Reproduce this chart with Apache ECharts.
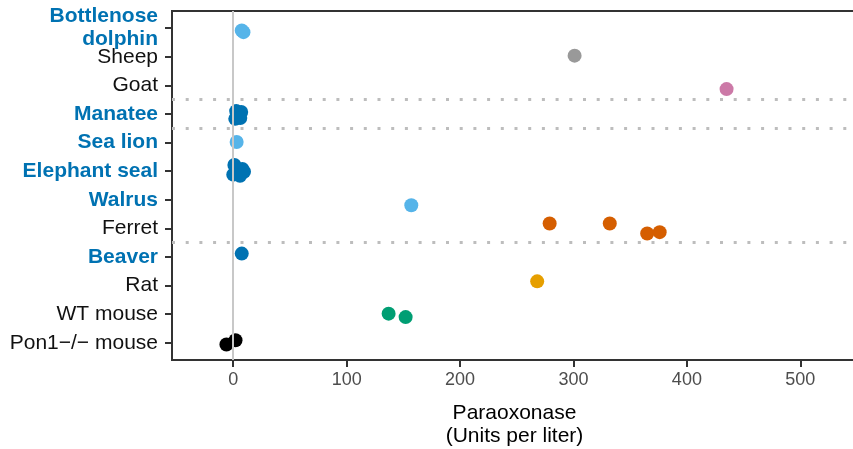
<!DOCTYPE html>
<html>
<head>
<meta charset="utf-8">
<script src="https://cdn.jsdelivr.net/npm/echarts@6/dist/echarts.min.js"></script>
<style>
  html, body { margin: 0; padding: 0; background: #fff; }
  #chart { width: 853px; height: 449px; }
</style>
</head>
<body>
<div id="chart"></div>
<script>
// Species shown on the vertical axis, top to bottom
const species = ['Bottlenose dolphin', 'Sheep', 'Goat', 'Manatee', 'Sea lion', 'Elephant seal',
                 'Walrus', 'Ferret', 'Beaver', 'Rat', 'WT mouse', 'Pon1\u2212/\u2212 mouse'];
// Tick labels (with line breaks)
const yLabels = ['Bottlenose\ndolphin', 'Sheep', 'Goat', 'Manatee', 'Sea lion', 'Elephant seal',
                 'Walrus', 'Ferret', 'Beaver', 'Rat', 'WT mouse', 'Pon1\u2212/\u2212 mouse'];
// Marine mammals are highlighted on the axis
const marine = [true, false, false, true, true, true, true, false, true, false, false, false];
// Paraoxonase activity (Units per liter), one list per species
const values = [
  [7.5, 9],
  [301],
  [435],
  [2.6, 7, 1.8, 6.2],
  [3],
  [1, 8, 9.5, 0, 6],
  [157],
  [279, 332, 365, 376],
  [7.5],
  [268],
  [137, 152],
  [-6, 2]
];
// Vertical jitter of each point around its row
const jitter = [
  [0.08, 0.14],
  [-0.04],
  [0.13],
  [-0.1, -0.07, 0.17, 0.14],
  [-0.02],
  [-0.22, -0.08, 0.02, 0.12, 0.16],
  [0.19],
  [-0.17, -0.17, 0.18, 0.13],
  [-0.12],
  [-0.15],
  [-0.02, 0.1],
  [0.06, -0.09]
];
const pointColors = ['#56B4E9', '#999999', '#CC79A7', '#0072B2', '#56B4E9', '#0072B2',
                     '#56B4E9', '#D55E00', '#0072B2', '#E69F00', '#009E73', '#000000'];
// Row boundaries marked with dotted separators
const separators = [2.5, 3.5, 7.5];
const xTicks = [0, 100, 200, 300, 400, 500];
// The tall two-line first row gets its own axis so neighbouring labels never collide
const yTicksTop = [0];
const yTicksRest = species.map((_, i) => i).slice(1);

const FONT = 'Liberation Sans, Arial, Helvetica, sans-serif';

const scatterSeries = species.map((name, i) => ({
  name: name,
  type: 'scatter',
  symbol: 'circle',
  symbolSize: 14,
  z: 3,
  yAxisIndex: 0,
  itemStyle: { color: pointColors[i], opacity: 1 },
  data: values[i].map((v, k) => [v, i + jitter[i][k]])
}));

const guideSeries = {
  type: 'scatter',
  data: [],
  z: 1,
  yAxisIndex: 0,
  silent: true,
  markLine: {
    silent: true,
    symbol: ['none', 'none'],
    label: { show: false },
    animation: false,
    data: [
      { xAxis: 0, lineStyle: { color: '#c8c8c8', width: 2, type: 'solid' } }
    ].concat(separators.map(s => ({
      yAxis: s, lineStyle: { color: '#bdbdbd', width: 3, type: [3, 10.7], cap: 'butt' }
    })))
  }
};

function speciesLabel(v) {
  const i = Math.round(v);
  const tag = marine[i] ? 'm' : 'o';
  return yLabels[i].split('\n').map(t => '{' + tag + '|' + t + '}').join('\n');
}

const labelRich = {
  m: { color: '#0072B2', fontWeight: 'bold', fontSize: 21, lineHeight: 23, fontFamily: FONT, align: 'right' },
  o: { color: '#111111', fontSize: 21, lineHeight: 23, fontFamily: FONT, align: 'right' }
};

function makeYAxis(ticks, showLine) {
  return {
    type: 'value',
    position: 'left',
    offset: 0,
    inverse: true,
    min: -0.6,
    max: 11.6,
    splitLine: { show: false },
    axisLine: { show: showLine, onZero: false, lineStyle: { color: '#333333', width: 2 } },
    axisTick: { show: true, length: 7, customValues: ticks, lineStyle: { color: '#333333', width: 2 } },
    axisLabel: {
      customValues: ticks,
      margin: 14,
      hideOverlap: false,
      showMinLabel: true,
      showMaxLabel: true,
      fontFamily: FONT,
      formatter: speciesLabel,
      rich: labelRich
    }
  };
}

const chart = echarts.init(document.getElementById('chart'), null, { renderer: 'canvas' });
chart.setOption({
  animation: false,
  backgroundColor: '#ffffff',
  textStyle: { fontFamily: FONT },
  grid: {
    left: 172, top: 11, right: -4, bottom: 89,
    containLabel: false,
    outerBoundsMode: 'none',
    show: true, borderColor: '#333333', borderWidth: 2, backgroundColor: 'transparent'
  },
  xAxis: {
    type: 'value',
    min: -54,
    max: 550,
    splitLine: { show: false },
    axisLine: { show: true, onZero: false, lineStyle: { color: '#333333', width: 2 } },
    axisTick: { show: true, length: 7, customValues: xTicks, lineStyle: { color: '#333333', width: 2 } },
    axisLabel: { customValues: xTicks, color: '#4d4d4d', fontSize: 18, margin: 11, fontFamily: FONT },
    name: 'Paraoxonase\n(Units per liter)',
    nameLocation: 'middle',
    nameGap: 42,
    nameTextStyle: { color: '#000000', fontSize: 21, lineHeight: 23, fontFamily: FONT, verticalAlign: 'top' }
  },
  yAxis: [makeYAxis(yTicksRest, true), makeYAxis(yTicksTop, false)],
  series: [guideSeries].concat(scatterSeries)
});
</script>
</body>
</html>
